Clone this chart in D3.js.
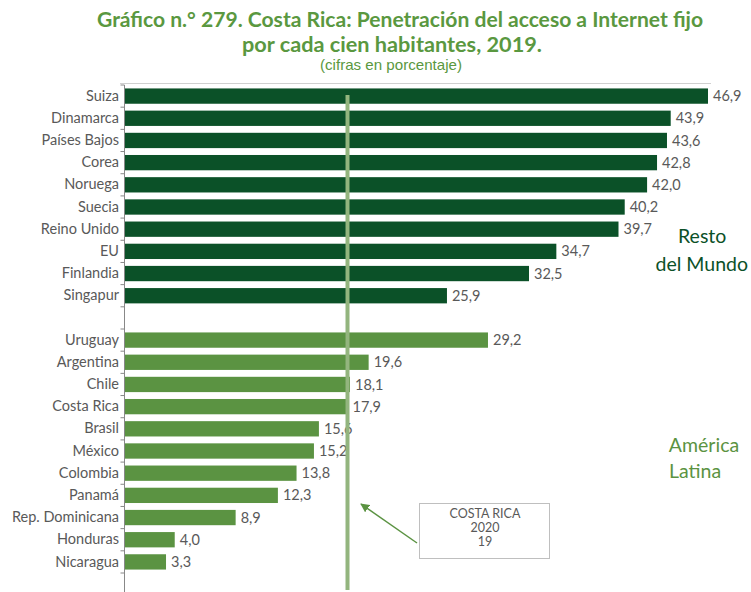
<!DOCTYPE html>
<html>
<head>
<meta charset="utf-8">
<script src="https://cdn.jsdelivr.net/npm/d3@7"></script>
<style>
  html, body { margin: 0; padding: 0; background: #fff; }
  svg { display: block; }
</style>
</head>
<body>
<svg id="chart" width="751" height="592"></svg>
<script>
// ---- data ----
const restoCountries = ["Suiza", "Dinamarca", "Países Bajos", "Corea", "Noruega", "Suecia", "Reino Unido", "EU", "Finlandia", "Singapur"];
const restoValues    = [46.9, 43.9, 43.6, 42.8, 42.0, 40.2, 39.7, 34.7, 32.5, 25.9];
const latamCountries = ["Uruguay", "Argentina", "Chile", "Costa Rica", "Brasil", "México", "Colombia", "Panamá", "Rep. Dominicana", "Honduras", "Nicaragua"];
const latamValues    = [29.2, 19.6, 18.1, 17.9, 15.6, 15.2, 13.8, 12.3, 8.9, 4.0, 3.3];
const refLineValue = 17.9;
const titleLines = ["Gráfico n.° 279. Costa Rica: Penetración del acceso a Internet fijo", "por cada cien habitantes, 2019."];
const subtitle = "(cifras en porcentaje)";
const noteLines = ["COSTA RICA", "2020", "19"];

const darkGreen = "#0b5128";
const lightGreen = "#5b9342";
const fmt = v => d3.format(".1f")(v).replace(".", ",");

// rows (with one empty spacer between groups)
const rows = [];
restoCountries.forEach((c, i) => rows.push({key: "r" + i, name: c, value: restoValues[i], color: darkGreen}));
rows.push({key: "gap", name: "", value: null});
latamCountries.forEach((c, i) => rows.push({key: "l" + i, name: c, value: latamValues[i], color: lightGreen}));

const svg = d3.select("#chart");

const x = d3.scaleLinear().domain([0, 46.9]).range([125, 708]);
const y = d3.scaleBand().domain(rows.map(r => r.key)).range([85, 573]).paddingInner(0.31).paddingOuter(0.155);

// title
const titleG = svg.append("g").attr("font-family", "Lato, 'Open Sans', sans-serif").attr("font-weight", "bold").attr("fill", "#5a9840");
titleG.append("text").attr("x", 400).attr("y", 27).attr("text-anchor", "middle").attr("font-size", 21)
  .attr("textLength", 606).attr("lengthAdjust", "spacingAndGlyphs").text(titleLines[0]);
titleG.append("text").attr("x", 392).attr("y", 52).attr("text-anchor", "middle").attr("font-size", 21)
  .attr("textLength", 300).attr("lengthAdjust", "spacingAndGlyphs").text(titleLines[1]);
svg.append("text").attr("x", 391).attr("y", 70).attr("text-anchor", "middle")
  .attr("font-family", "'Liberation Sans', Arial, sans-serif").attr("font-size", 15).attr("fill", "#5a9840")
  .attr("textLength", 142).attr("lengthAdjust", "spacingAndGlyphs")
  .text(subtitle);

// top thin border line
svg.append("line").attr("x1", 120).attr("x2", 711).attr("y1", 83.5).attr("y2", 83.5)
  .attr("stroke", "#d0d0d0").attr("stroke-width", 1);

// bars
const data = rows.filter(r => r.value !== null);
svg.append("g").selectAll("rect").data(data).join("rect")
  .attr("x", x(0)).attr("y", d => y(d.key))
  .attr("width", d => x(d.value) - x(0)).attr("height", y.bandwidth())
  .attr("fill", d => d.color);

// axis with category labels
const axis = svg.append("g").attr("transform", `translate(${x(0) - 1},0)`)
  .call(d3.axisLeft(y).tickSize(0).tickPadding(5).tickFormat(k => rows.find(r => r.key === k).name));
axis.select(".domain").remove();
axis.selectAll("text").attr("font-family", "Lato, 'Open Sans', sans-serif").attr("font-size", 14.5).attr("fill", "#595959");

// axis line and boundary ticks
const ax = x(0) - 0.5;
svg.append("line").attr("x1", ax).attr("x2", ax).attr("y1", 85).attr("y2", 592).attr("stroke", "#888").attr("stroke-width", 1);
const step = y.step();
const bounds = d3.range(rows.length + 1).map(i => y(rows[0].key) - y.paddingInner() * step / 2 + i * step);
svg.append("g").selectAll("line").data(bounds).join("line")
  .attr("x1", ax - 4).attr("x2", ax).attr("y1", d => d).attr("y2", d => d)
  .attr("stroke", "#888").attr("stroke-width", 1);

// value labels
svg.append("g").selectAll("text").data(data).join("text")
  .attr("x", d => x(d.value) + 5).attr("y", d => y(d.key) + y.bandwidth() / 2)
  .attr("dy", "0.35em")
  .attr("font-family", "Lato, 'Open Sans', sans-serif").attr("font-size", 14.5).attr("fill", "#595959")
  .text(d => fmt(d.value));

// reference line
svg.append("line").attr("x1", x(refLineValue)).attr("x2", x(refLineValue)).attr("y1", 95).attr("y2", 590)
  .attr("stroke", "#93b57e").attr("stroke-width", 4);

// group labels
const grp = svg.append("g").attr("font-family", "Lato, 'Open Sans', sans-serif").attr("font-size", 19.5);
grp.append("text").attr("x", 678).attr("y", 243).attr("fill", darkGreen).text("Resto");
grp.append("text").attr("x", 748).attr("y", 271).attr("text-anchor", "end").attr("fill", darkGreen).text("del Mundo");
grp.append("text").attr("x", 704).attr("y", 452).attr("text-anchor", "middle").attr("fill", lightGreen).text("América");
grp.append("text").attr("x", 695).attr("y", 478).attr("text-anchor", "middle").attr("fill", lightGreen).text("Latina");

// annotation box and arrow
svg.append("defs").append("marker").attr("id", "arr").attr("viewBox", "0 0 10 10")
  .attr("refX", 9).attr("refY", 5).attr("markerWidth", 6).attr("markerHeight", 6).attr("orient", "auto")
  .append("path").attr("d", "M0,0 L10,5 L0,10 Z").attr("fill", lightGreen);
svg.append("line").attr("x1", 417).attr("y1", 543).attr("x2", 361).attr("y2", 504)
  .attr("stroke", lightGreen).attr("stroke-width", 1.5).attr("marker-end", "url(#arr)");
svg.append("rect").attr("x", 419.5).attr("y", 503.5).attr("width", 130).attr("height", 55)
  .attr("fill", "#fff").attr("stroke", "#bfbfbf").attr("stroke-width", 1);
svg.append("g").selectAll("text").data(noteLines).join("text")
  .attr("x", 485).attr("y", (d, i) => 518 + i * 14).attr("text-anchor", "middle")
  .attr("font-family", "Lato, 'Open Sans', sans-serif").attr("font-size", 12.5).attr("fill", "#595959")
  .text(d => d);
</script>
</body>
</html>
